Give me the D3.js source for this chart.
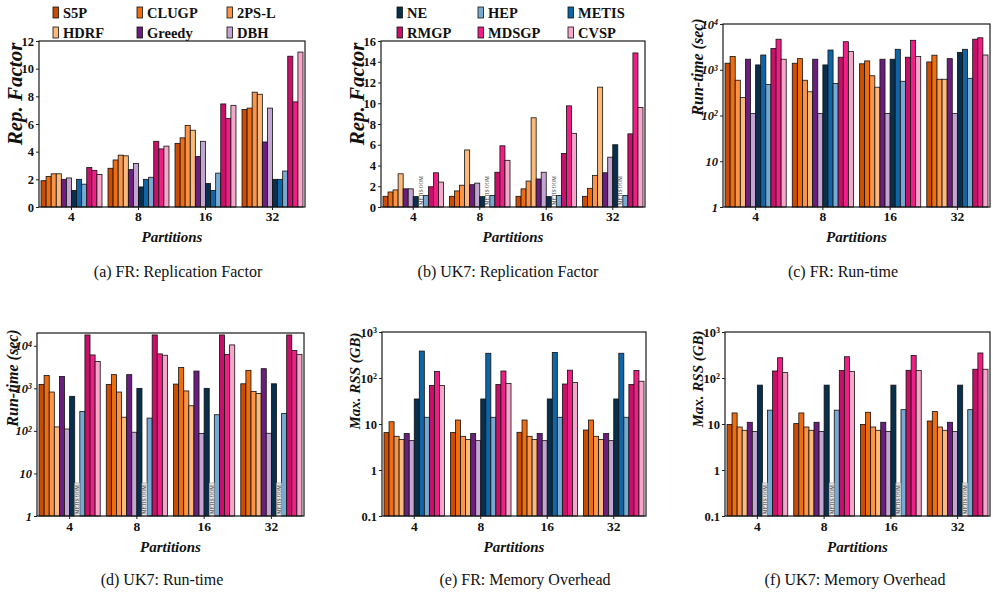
<!DOCTYPE html>
<html>
<head>
<meta charset="utf-8">
<script src="https://cdn.jsdelivr.net/npm/d3@7"></script>
<style>
  body { margin: 0; background: #fff; }
  svg { display: block; font-family: "Liberation Serif", "Times New Roman", serif; }
</style>
</head>
<body>
<script>
// methods in bar order
const methods = ["S5P", "CLUGP", "2PS-L", "HDRF", "Greedy", "DBH", "NE", "METIS", "HEP", "RMGP", "MDSGP", "CVSP"];
const colors = ["#cc4c02", "#ee6c12", "#fb9446", "#fdb97a", "#6a1f7e", "#c2a5d0", "#08304c", "#0f65a6", "#76aad2", "#c8106a", "#ef1f86", "#f5a6c9"];
const partitions = ["4", "8", "16", "32"];
const legendRowsA = [["S5P", "CLUGP", "2PS-L"], ["HDRF", "Greedy", "DBH"]];
const legendRowsB = [["NE", "HEP", "METIS"], ["RMGP", "MDSGP", "CVSP"]];

// one row per partition count, null = METIS OOM
const frRepFactor = [
  [1.9, 2.2, 2.4, 2.4, 2.0, 2.1, 1.2, 2.0, 1.65, 2.85, 2.65, 2.35],
  [2.8, 3.4, 3.75, 3.7, 2.7, 3.15, 1.45, 2.0, 2.15, 4.75, 4.2, 4.4],
  [4.6, 5.0, 5.9, 5.55, 3.65, 4.75, 1.7, 1.2, 2.45, 7.45, 6.4, 7.35],
  [7.05, 7.15, 8.3, 8.15, 4.7, 7.15, 2.0, 2.0, 2.6, 10.9, 7.6, 11.2]
];
const uk7RepFactor = [
  [1.03, 1.45, 1.65, 3.2, 1.75, 1.75, 1.0, null, 1.1, 1.95, 3.3, 2.4],
  [1.03, 1.55, 2.1, 5.5, 2.15, 2.3, 1.0, null, 1.1, 3.35, 5.9, 4.5],
  [1.03, 1.75, 2.5, 8.6, 2.7, 3.35, 1.0, null, 1.1, 5.15, 9.75, 7.1],
  [1.03, 1.8, 3.05, 11.55, 3.3, 4.8, 6.0, null, 1.1, 7.05, 14.85, 9.6]
];
const frRuntime = [
  [1390, 1940, 590, 248, 1700, 110, 1275, 2100, 475, 2900, 4650, 1700],
  [1390, 1750, 590, 330, 1700, 110, 1275, 2700, 500, 1880, 4100, 2500],
  [1350, 1560, 740, 415, 1700, 110, 1700, 2800, 560, 1880, 4400, 1950],
  [1480, 2080, 620, 620, 1750, 110, 2400, 2800, 650, 4650, 5000, 2100]
];
const uk7Runtime = [
  [1240, 2000, 820, 124, 1900, 111, 650, null, 285, 18000, 6100, 4300],
  [1240, 2100, 820, 210, 2100, 93, 1000, null, 200, 18000, 6450, 6000],
  [1260, 3100, 870, 390, 2550, 87, 1000, null, 240, 18000, 6250, 10500],
  [1280, 2650, 850, 760, 2900, 88, 1280, null, 255, 18000, 7800, 6300]
];
const frMemory = [
  [6.5, 11.2, 5.4, 4.6, 6.2, 4.35, 35, 385, 14, 69, 138, 69],
  [6.5, 12.2, 5.4, 4.6, 6.2, 4.35, 35, 345, 14, 72, 142, 76],
  [6.6, 12.2, 5.4, 4.6, 6.2, 4.35, 35, 360, 14, 74, 148, 80],
  [7.4, 12.2, 5.4, 4.6, 6.2, 4.35, 35, 345, 14, 72, 146, 85]
];
const uk7Memory = [
  [9.8, 17.4, 8.6, 7.3, 10.9, 6.9, 70, null, 20, 142, 276, 131],
  [10.2, 17.4, 8.6, 7.3, 10.9, 6.9, 70, null, 20, 145, 290, 138],
  [9.8, 18, 8.6, 7.3, 10.9, 6.9, 70, null, 20.5, 147, 310, 145],
  [11.6, 18.6, 8.6, 7.3, 10.9, 6.9, 70, null, 20.5, 155, 350, 155]
];

const linTicksA = [0, 2, 4, 6, 8, 10, 12];
const linTicksB = [0, 2, 4, 6, 8, 10, 12, 14, 16];
const timeTicks = [1, 10, 100, 1000, 10000];
const memTicks = [0.1, 1, 10, 100, 1000];

const panels = [
  { data: frRepFactor, x0: 39, x1: 305, y0: 41, y1: 207, log: false, domain: [0, 12], ticks: linTicksA,
    ylabel: "Rep. Factor", yls: 21, ylx: 15, yly: 94, caption: "(a) FR: Replication Factor", cx: 178, cy: 277, base: 221 },
  { data: uk7RepFactor, x0: 381, x1: 645, y0: 41, y1: 207, log: false, domain: [0, 16], ticks: linTicksB,
    ylabel: "Rep. Factor", yls: 21, ylx: 357, yly: 94, caption: "(b) UK7: Replication Factor", cx: 508, cy: 277, base: 221, oom: "text" },
  { data: frRuntime, x0: 723, x1: 990, y0: 24, y1: 207, log: true, domain: [1, 10000], ticks: timeTicks, italicTicks: true,
    ylabel: "Run-time (sec)", yls: 16, ylx: 697, yly: 67, caption: "(c) FR: Run-time", cx: 843, cy: 277, base: 221 },
  { data: uk7Runtime, x0: 37, x1: 304, y0: 333, y1: 516, log: true, domain: [1, 20000], ticks: timeTicks, italicTicks: true,
    ylabel: "Run-time (sec)", yls: 16, ylx: 12, yly: 378, caption: "(d) UK7: Run-time", cx: 162, cy: 585, base: 531, oom: "box" },
  { data: frMemory, x0: 382, x1: 646, y0: 332, y1: 516, log: true, domain: [0.1, 1000], ticks: memTicks,
    ylabel: "Max. RSS (GB)", yls: 15, ylx: 355, yly: 381, caption: "(e) FR: Memory Overhead", cx: 525, cy: 585, base: 531 },
  { data: uk7Memory, x0: 725, x1: 990, y0: 332, y1: 516, log: true, domain: [0.1, 1000], ticks: memTicks,
    ylabel: "Max. RSS (GB)", yls: 15, ylx: 698, yly: 379, caption: "(f) UK7: Memory Overhead", cx: 855, cy: 585, base: 531, oom: "box" }
];

const svg = d3.select("body").append("svg")
  .attr("width", 993).attr("height", 600)
  .attr("xmlns", "http://www.w3.org/2000/svg");
svg.append("rect").attr("width", 993).attr("height", 600).attr("fill", "#fff");

const color = d3.scaleOrdinal().domain(methods).range(colors);

panels.forEach(function (p) {
  const g = svg.append("g");

  const x = d3.scaleBand().domain(partitions).range([p.x0, p.x1]).paddingInner(0.09).paddingOuter(0.03);
  const xm = d3.scaleBand().domain(methods).range([0, x.bandwidth()]);
  const y = (p.log ? d3.scaleLog() : d3.scaleLinear()).domain(p.domain).range([p.y1, p.y0]);

  // bars
  partitions.forEach(function (part, i) {
    const vals = p.data[i];
    g.append("g").selectAll("rect")
      .data(methods.map(function (m, j) { return { m: m, v: vals[j] }; }).filter(function (d) { return d.v != null; }))
      .enter().append("rect")
      .attr("x", function (d) { return x(part) + xm(d.m); })
      .attr("y", function (d) { return y(d.v); })
      .attr("width", xm.bandwidth())
      .attr("height", function (d) { return p.y1 - y(d.v); })
      .attr("fill", function (d) { return color(d.m); })
      .attr("stroke", "#111")
      .attr("stroke-width", 0.8);

    if (p.oom) {
      const ox = x(part) + xm("METIS");
      if (p.oom === "box") {
        g.append("rect").attr("x", ox).attr("y", p.y1 - 33).attr("width", xm.bandwidth()).attr("height", 33)
          .attr("fill", "#e4e4e4").attr("stroke", "#999").attr("stroke-width", 0.6);
      }
      g.append("text")
        .attr("transform", "translate(" + (ox + xm.bandwidth() / 2 + 1.8) + "," + (p.y1 - 2) + ") rotate(-90)")
        .attr("font-size", 5.2).attr("fill", "#333")
        .text("METIS OOM");
    }
  });

  // axes
  const yAxis = d3.axisLeft(y).tickValues(p.ticks).tickSize(3).tickPadding(2).tickFormat("");
  const ya = g.append("g").attr("transform", "translate(" + p.x0 + ",0)").call(yAxis);
  ya.select(".domain").remove();
  ya.selectAll(".tick line").attr("stroke", "#222");
  ya.selectAll(".tick text").each(function (d) {
    const t = d3.select(this)
      .attr("font-size", 12.5).attr("font-weight", "bold").attr("fill", "#111")
      .attr("font-family", "Liberation Serif")
      .attr("font-style", p.italicTicks ? "italic" : "normal");
    if (p.log && d >= 100) {
      const k = Math.round(Math.log10(d));
      t.append("tspan").text("10");
      t.append("tspan").attr("dy", "-0.45em").attr("font-size", 8).text(k);
    } else {
      t.text(d);
    }
  });

  const xAxis = d3.axisBottom(x).tickSize(3).tickPadding(3);
  const xa = g.append("g").attr("transform", "translate(0," + p.y1 + ")").call(xAxis);
  xa.select(".domain").remove();
  xa.selectAll(".tick line").attr("stroke", "#222");
  xa.selectAll(".tick text").attr("font-size", 13.5).attr("font-weight", "bold").attr("fill", "#111")
    .attr("font-family", "Liberation Serif").attr("dy", null).attr("y", p.base - p.y1);

  // frame
  g.append("rect").attr("x", p.x0).attr("y", p.y0).attr("width", p.x1 - p.x0).attr("height", p.y1 - p.y0)
    .attr("fill", "none").attr("stroke", "#1a1a1a").attr("stroke-width", 1.2);

  // labels
  g.append("text")
    .attr("transform", "translate(" + p.ylx + "," + p.yly + ") rotate(-90)")
    .attr("text-anchor", "middle").attr("dominant-baseline", "central")
    .attr("font-size", p.yls).attr("font-weight", "bold").attr("font-style", "italic").attr("fill", "#111")
    .text(p.ylabel);
  g.append("text")
    .attr("x", (p.x0 + p.x1) / 2).attr("y", p.base + 21)
    .attr("text-anchor", "middle")
    .attr("font-size", 15).attr("font-weight", "bold").attr("font-style", "italic").attr("fill", "#111")
    .text("Partitions");
  g.append("text")
    .attr("x", p.cx).attr("y", p.cy)
    .attr("text-anchor", "middle")
    .attr("font-size", 16).attr("fill", "#111")
    .text(p.caption);
});

// legends
function drawLegend(rows, cols) {
  rows.forEach(function (row, r) {
    row.forEach(function (m, c) {
      const lx = cols[c], ly = 7 + r * 20;
      svg.append("rect").attr("x", lx).attr("y", ly).attr("width", 5.5).attr("height", 11)
        .attr("fill", color(m)).attr("stroke", "#111").attr("stroke-width", 0.8);
      svg.append("text").attr("x", lx + 10).attr("y", ly + 10.5)
        .attr("font-size", 14.5).attr("font-weight", "bold").attr("fill", "#111")
        .text(m);
    });
  });
}
drawLegend(legendRowsA, [53, 137, 227]);
drawLegend(legendRowsB, [397, 478, 568]);
</script>
</body>
</html>
